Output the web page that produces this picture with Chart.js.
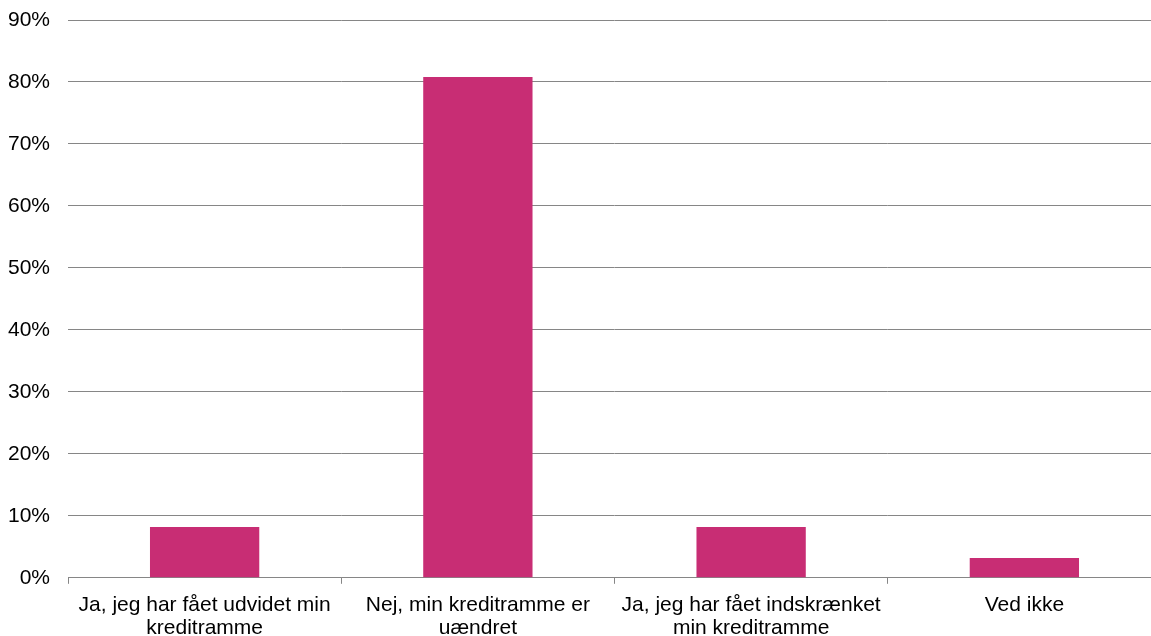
<!DOCTYPE html>
<html>
<head>
<meta charset="utf-8">
<script src="https://cdn.jsdelivr.net/npm/chart.js@4/dist/chart.umd.min.js"></script>
<style>
    html, body { margin: 0; padding: 0; background: #ffffff; overflow: hidden; }
    #wrap { position: relative; width: 1161px; height: 650px; }
</style>
</head>
<body>
<div id="wrap"><canvas id="creditChart"></canvas></div>
<script>

const categories = [
    ["Ja, jeg har fået udvidet min", "kreditramme"],
    ["Nej, min kreditramme er", "uændret"],
    ["Ja, jeg har fået indskrænket", "min kreditramme"],
    "Ved ikke"
];

const shareValues = [8.2, 80.8, 8.2, 3.2];

const yTicks = [0, 10, 20, 30, 40, 50, 60, 70, 80, 90];


const drawCreditChart = () => {

    const chartCanvas = document.getElementById("creditChart");

    new Chart(
        chartCanvas, {
            type: "bar",
            data: {
                labels: categories,
                datasets: [
                    {
                        data: shareValues,
                        backgroundColor: "#C82D74",
                        borderWidth: 0,
                        barPercentage: 0.4,
                        categoryPercentage: 1
                    }
                ]
            },
            options: {
                responsive: true,
                maintainAspectRatio: false,
                animation: false,
                layout: {
                    padding: { top: 20, left: 7, right: 0, bottom: 0 }
                },
                plugins: {
                    legend: { display: false },
                    tooltip: { enabled: false }
                },
                scales: {
                    x: {
                        offset: true,
                        afterFit: (axis) => {
                            axis.paddingLeft = 0;
                            axis.paddingRight = 0;
                        },
                        grid: {
                            offset: true,
                            drawOnChartArea: false,
                            drawTicks: true,
                            tickLength: 6,
                            color: "#868686"
                        },
                        border: { color: "#868686", width: 1 },
                        ticks: {
                            color: "#000000",
                            padding: 10,
                            maxRotation: 0,
                            autoSkip: false,
                            font: { family: "'Liberation Sans', Arial", size: 21, lineHeight: 1.1 }
                        }
                    },
                    y: {
                        min: 0,
                        max: 90,
                        afterBuildTicks: (axis) => {
                            axis.ticks = yTicks.map((v) => ({ value: v }));
                        },
                        afterFit: (axis) => {
                            axis.width = 61;
                            axis.paddingTop = 0;
                            axis.paddingBottom = 0;
                        },
                        grid: {
                            color: "#868686",
                            drawTicks: false
                        },
                        border: { display: false },
                        ticks: {
                            color: "#000000",
                            padding: 18,
                            callback: (v) => v + "%",
                            font: { family: "'Liberation Sans', Arial", size: 21 }
                        }
                    }
                }
            }
        }
    );

    return;

};


drawCreditChart();

</script>
</body>
</html>
